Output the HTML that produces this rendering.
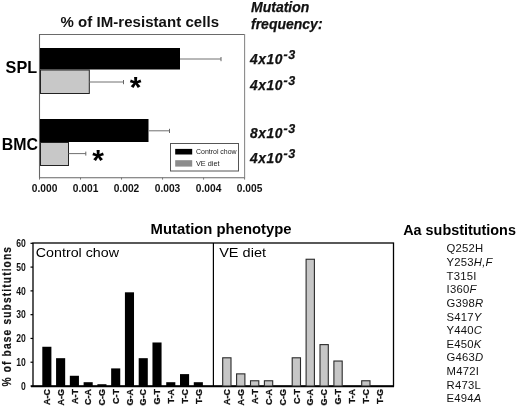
<!DOCTYPE html>
<html><head><meta charset="utf-8">
<style>
html,body{margin:0;padding:0;background:#fff;}
body{width:520px;height:409px;overflow:hidden;position:relative;font-family:"Liberation Sans",sans-serif;}
svg{position:absolute;left:0;top:0;will-change:transform;}
text{font-family:"Liberation Sans",sans-serif;}
</style></head><body>
<svg width="520" height="409" viewBox="0 0 520 409">
<!-- ===== TOP CHART ===== -->
<text x="60.4" y="27.3" font-size="15" letter-spacing="0.05" font-weight="bold" fill="#111">% of IM-resistant cells</text>
<g stroke-width="1.1">
<line x1="39.5" y1="34.5" x2="244.6" y2="34.5" stroke="#6a6a6a"/>
<line x1="39.5" y1="34" x2="39.5" y2="178.2" stroke="#666"/>
<line x1="39" y1="177.7" x2="245" y2="177.7" stroke="#666"/>
<line x1="244.6" y1="34" x2="244.6" y2="178" stroke="#8a8a8a"/>
</g>
<!-- SPL -->
<rect x="40" y="48" width="140" height="21.5" fill="#000"/>
<line x1="180" y1="59" x2="221" y2="59" stroke="#707070" stroke-width="1"/>
<line x1="221" y1="57" x2="221" y2="61.2" stroke="#666" stroke-width="1"/>
<rect x="40.5" y="70" width="48.8" height="23.5" fill="#c8c8c8" stroke="#222" stroke-width="1"/>
<line x1="89.3" y1="82" x2="123.5" y2="82" stroke="#707070" stroke-width="1"/>
<line x1="123.5" y1="80" x2="123.5" y2="84.2" stroke="#666" stroke-width="1"/>
<!-- BMC -->
<rect x="40" y="119" width="108.5" height="23" fill="#000"/>
<line x1="148.5" y1="130.8" x2="169.5" y2="130.8" stroke="#707070" stroke-width="1"/>
<line x1="169.5" y1="128.8" x2="169.5" y2="133" stroke="#666" stroke-width="1"/>
<rect x="40.5" y="142.5" width="28" height="23" fill="#c8c8c8" stroke="#222" stroke-width="1"/>
<line x1="68.5" y1="153.6" x2="85.8" y2="153.6" stroke="#707070" stroke-width="1"/>
<line x1="85.8" y1="151.6" x2="85.8" y2="155.6" stroke="#666" stroke-width="1"/>
<!-- ticks -->
<g stroke="#777" stroke-width="1">
<line x1="39.50" y1="177.5" x2="39.50" y2="179.6"/>
<line x1="80.52" y1="177.5" x2="80.52" y2="179.6"/>
<line x1="121.54" y1="177.5" x2="121.54" y2="179.6"/>
<line x1="162.56" y1="177.5" x2="162.56" y2="179.6"/>
<line x1="203.58" y1="177.5" x2="203.58" y2="179.6"/>
<line x1="244.60" y1="177.5" x2="244.60" y2="179.6"/>
</g>
<g font-size="10" font-weight="bold" text-anchor="middle" fill="#111">
<text transform="translate(44.6,191.5) scale(1.02,1)">0.000</text>
<text transform="translate(85.6,191.5) scale(1.02,1)">0.001</text>
<text transform="translate(126.5,191.5) scale(1.02,1)">0.002</text>
<text transform="translate(167.5,191.5) scale(1.02,1)">0.003</text>
<text transform="translate(208.6,191.5) scale(1.02,1)">0.004</text>
<text transform="translate(249.6,191.5) scale(1.02,1)">0.005</text>
</g>
<text x="5.6" y="72.6" font-size="16.2" font-weight="bold" fill="#000">SPL</text>
<text x="1.7" y="150.3" font-size="15.9" font-weight="bold" fill="#000">BMC</text>
<!-- asterisks -->
<text x="129.7" y="96.7" font-size="30" font-weight="bold" fill="#000">*</text>
<text x="92.2" y="169.6" font-size="30" font-weight="bold" fill="#000">*</text>
<!-- legend -->
<rect x="170.5" y="143.5" width="68" height="27.5" fill="#fff" stroke="#555" stroke-width="1"/>
<rect x="175.2" y="148.9" width="17" height="5.6" fill="#000"/>
<rect x="175.2" y="160.2" width="17" height="6.4" fill="#8c8c8c"/>
<text x="196" y="154.2" font-size="7.4" fill="#222" textLength="40.6" lengthAdjust="spacingAndGlyphs">Control chow</text>
<text x="196" y="165.8" font-size="7.3" fill="#222">VE diet</text>
<!-- mutation freq -->
<g font-weight="bold" font-style="italic" fill="#111" stroke="#111" stroke-width="0.25">
<text x="251" y="12.1" font-size="14">Mutation</text>
<text x="251" y="28.7" font-size="14">frequency:</text>
<g font-size="13.8" letter-spacing="0.6">
<text x="250" y="63.9">4x10<tspan dx="0.5" dy="-5.0" font-size="12.5" letter-spacing="0.6">-3</tspan></text>
<text x="250" y="89.6">4x10<tspan dx="0.5" dy="-5.0" font-size="12.5" letter-spacing="0.6">-3</tspan></text>
<text x="250" y="137.7">8x10<tspan dx="0.5" dy="-5.0" font-size="12.5" letter-spacing="0.6">-3</tspan></text>
<text x="250" y="163">4x10<tspan dx="0.5" dy="-5.0" font-size="12.5" letter-spacing="0.6">-3</tspan></text>
</g>
</g>

<!-- ===== BOTTOM CHART ===== -->
<text x="150.6" y="233.9" font-size="14.85" font-weight="bold" fill="#000">Mutation phenotype</text>
<text x="403.2" y="235" font-size="14.4" font-weight="bold" fill="#000">Aa substitutions</text>
<rect x="33" y="243" width="360.5" height="143" fill="none" stroke="#000" stroke-width="1.3"/>
<line x1="213.4" y1="243" x2="213.4" y2="386" stroke="#000" stroke-width="1.2"/>
<line x1="31" y1="386.4" x2="394" y2="386.4" stroke="#000" stroke-width="1.8"/>
<text x="35.8" y="256.5" font-size="13.6" fill="#000" textLength="83.2" lengthAdjust="spacingAndGlyphs">Control chow</text>
<text x="219.2" y="256.5" font-size="13.5" fill="#000" textLength="46.8" lengthAdjust="spacingAndGlyphs">VE diet</text>
<g stroke="#000" stroke-width="1.2">
<line x1="30.5" y1="386.00" x2="33" y2="386.00"/>
<line x1="30.5" y1="362.22" x2="33" y2="362.22"/>
<line x1="30.5" y1="338.44" x2="33" y2="338.44"/>
<line x1="30.5" y1="314.66" x2="33" y2="314.66"/>
<line x1="30.5" y1="290.88" x2="33" y2="290.88"/>
<line x1="30.5" y1="267.10" x2="33" y2="267.10"/>
<line x1="30.5" y1="243.32" x2="33" y2="243.32"/>
</g>
<g font-size="10.5" font-weight="bold" fill="#111" text-anchor="end">
<text transform="translate(25.9,389.70) scale(0.82,1)">0</text>
<text transform="translate(25.9,365.92) scale(0.82,1)">10</text>
<text transform="translate(25.9,342.14) scale(0.82,1)">20</text>
<text transform="translate(25.9,318.36) scale(0.82,1)">30</text>
<text transform="translate(25.9,294.58) scale(0.82,1)">40</text>
<text transform="translate(25.9,270.80) scale(0.82,1)">50</text>
<text transform="translate(25.9,247.02) scale(0.82,1)">60</text>
</g>
<text transform="translate(10.7,386.4) rotate(-90) scale(0.83,1)" font-size="12.3" font-weight="bold" fill="#111" stroke="#111" stroke-width="0.2" textLength="168" lengthAdjust="spacing">% of base substitutions</text>
<g fill="#000">
<rect x="42.30" y="346.76" width="9.1" height="39.24"/>
<rect x="56.07" y="358.18" width="9.1" height="27.82"/>
<rect x="69.84" y="375.77" width="9.1" height="10.23"/>
<rect x="83.61" y="382.20" width="9.1" height="3.80"/>
<rect x="97.38" y="384.22" width="9.1" height="1.78"/>
<rect x="111.15" y="368.40" width="9.1" height="17.60"/>
<rect x="124.92" y="292.31" width="9.1" height="93.69"/>
<rect x="138.69" y="358.18" width="9.1" height="27.82"/>
<rect x="152.46" y="342.48" width="9.1" height="43.52"/>
<rect x="166.23" y="382.20" width="9.1" height="3.80"/>
<rect x="180.00" y="374.11" width="9.1" height="11.89"/>
<rect x="193.77" y="382.20" width="9.1" height="3.80"/>
</g>
<g fill="#c6c6c6" stroke="#2a2a2a" stroke-width="1.1">
<rect x="222.70" y="357.80" width="8.3" height="28.20"/>
<rect x="236.60" y="373.87" width="8.3" height="12.13"/>
<rect x="250.50" y="380.77" width="8.3" height="5.23"/>
<rect x="264.40" y="380.77" width="8.3" height="5.23"/>
<rect x="292.20" y="357.80" width="8.3" height="28.20"/>
<rect x="306.10" y="259.25" width="8.3" height="126.75"/>
<rect x="320.00" y="344.62" width="8.3" height="41.38"/>
<rect x="333.90" y="361.03" width="8.3" height="24.97"/>
<rect x="361.70" y="380.77" width="8.3" height="5.23"/>
</g>
<g font-size="9" font-weight="bold" fill="#111" stroke="#111" stroke-width="0.25" text-anchor="end">
<text transform="translate(50.05,389.1) rotate(-90)">A-C</text>
<text transform="translate(63.82,389.1) rotate(-90)">A-G</text>
<text transform="translate(77.59,389.1) rotate(-90)">A-T</text>
<text transform="translate(91.36,389.1) rotate(-90)">C-A</text>
<text transform="translate(105.13,389.1) rotate(-90)">C-G</text>
<text transform="translate(118.90,389.1) rotate(-90)">C-T</text>
<text transform="translate(132.67,389.1) rotate(-90)">G-A</text>
<text transform="translate(146.44,389.1) rotate(-90)">G-C</text>
<text transform="translate(160.21,389.1) rotate(-90)">G-T</text>
<text transform="translate(173.98,389.1) rotate(-90)">T-A</text>
<text transform="translate(187.75,389.1) rotate(-90)">T-C</text>
<text transform="translate(201.52,389.1) rotate(-90)">T-G</text>
<text transform="translate(230.00,389.1) rotate(-90)">A-C</text>
<text transform="translate(243.90,389.1) rotate(-90)">A-G</text>
<text transform="translate(257.80,389.1) rotate(-90)">A-T</text>
<text transform="translate(271.70,389.1) rotate(-90)">C-A</text>
<text transform="translate(285.60,389.1) rotate(-90)">C-G</text>
<text transform="translate(299.50,389.1) rotate(-90)">C-T</text>
<text transform="translate(313.40,389.1) rotate(-90)">G-A</text>
<text transform="translate(327.30,389.1) rotate(-90)">G-C</text>
<text transform="translate(341.20,389.1) rotate(-90)">G-T</text>
<text transform="translate(355.10,389.1) rotate(-90)">T-A</text>
<text transform="translate(369.00,389.1) rotate(-90)">T-C</text>
<text transform="translate(382.90,389.1) rotate(-90)">T-G</text>
</g>
<g font-size="11.3" fill="#111" letter-spacing="0.2">
<text x="446.6" y="252.40">Q252H</text>
<text x="446.6" y="266.02">Y253<tspan font-style="italic">H,F</tspan></text>
<text x="446.6" y="279.64">T315I</text>
<text x="446.6" y="293.26">I360<tspan font-style="italic">F</tspan></text>
<text x="446.6" y="306.88">G398<tspan font-style="italic">R</tspan></text>
<text x="446.6" y="320.50">S417<tspan font-style="italic">Y</tspan></text>
<text x="446.6" y="334.12">Y440<tspan font-style="italic">C</tspan></text>
<text x="446.6" y="347.74">E450<tspan font-style="italic">K</tspan></text>
<text x="446.6" y="361.36">G463<tspan font-style="italic">D</tspan></text>
<text x="446.6" y="374.98">M472I</text>
<text x="446.6" y="388.60">R473L</text>
<text x="446.6" y="402.22">E494<tspan font-style="italic">A</tspan></text>
</g>
</svg>
</body></html>
